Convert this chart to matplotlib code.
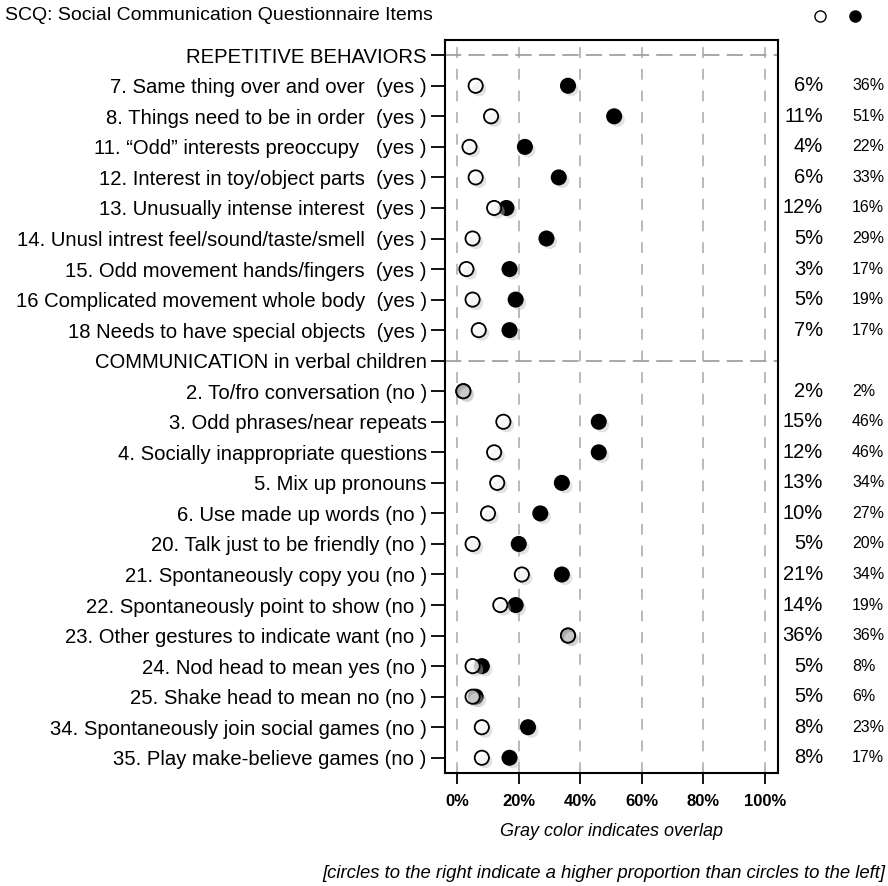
import matplotlib
matplotlib.use("Agg")
import matplotlib.pyplot as plt
import matplotlib.patheffects as pe
from matplotlib.lines import Line2D
from matplotlib.transforms import blended_transform_factory

plt.rcParams['font.family'] = ['Liberation Sans', 'DejaVu Sans']

# Section headers and items (in display order)
rep_header = "REPETITIVE BEHAVIORS"
rep_items = [
    "7. Same thing over and over  (yes )",
    "8. Things need to be in order  (yes )",
    "11. \u201cOdd\u201d interests preoccupy   (yes )",
    "12. Interest in toy/object parts  (yes )",
    "13. Unusually intense interest  (yes )",
    "14. Unusl intrest feel/sound/taste/smell  (yes )",
    "15. Odd movement hands/fingers  (yes )",
    "16 Complicated movement whole body  (yes )",
    "18 Needs to have special objects  (yes )",
]
rep_open = [6, 11, 4, 6, 12, 5, 3, 5, 7]
rep_filled = [36, 51, 22, 33, 16, 29, 17, 19, 17]

com_header = "COMMUNICATION in verbal children"
com_items = [
    "2. To/fro conversation (no )",
    "3. Odd phrases/near repeats",
    "4. Socially inappropriate questions",
    "5. Mix up pronouns",
    "6. Use made up words (no )",
    "20. Talk just to be friendly (no )",
    "21. Spontaneously copy you (no )",
    "22. Spontaneously point to show (no )",
    "23. Other gestures to indicate want (no )",
    "24. Nod head to mean yes (no )",
    "25. Shake head to mean no (no )",
    "34. Spontaneously join social games (no )",
    "35. Play make-believe games (no )",
]
com_open = [2, 15, 12, 13, 10, 5, 21, 14, 36, 5, 5, 8, 8]
com_filled = [2, 46, 46, 34, 27, 20, 34, 19, 36, 8, 6, 23, 17]

x_ticks = [0, 20, 40, 60, 80, 100]
x_ticklabels = ["0%", "20%", "40%", "60%", "80%", "100%"]

# Assemble rows
labels = [rep_header] + rep_items + [com_header] + com_items
open_vals = [None] + rep_open + [None] + com_open
filled_vals = [None] + rep_filled + [None] + com_filled
header_rows = [0, len(rep_items) + 1]

fig = plt.figure(figsize=(8.88, 8.86), dpi=100)
ax = fig.add_axes([0.501, 0.1275, 0.375, 0.8274])

ypos = list(range(len(labels)))
item_y = [y for y, v in zip(ypos, open_vals) if v is not None]
item_open = [v for v in open_vals if v is not None]
item_filled = [v for v in filled_vals if v is not None]

grid_color = "#b4b4b4"
for xv in x_ticks:
    ax.axvline(xv, color=grid_color, lw=1.3, ls=(0, (6, 6)), zorder=1)
for hy in header_rows:
    ax.axhline(hy, color="#a0a0a0", lw=1.3, ls=(0, (9, 4)), zorder=1)

shadow = [pe.SimplePatchShadow(offset=(2.5, -2.5), shadow_rgbFace="0.75", alpha=0.45), pe.Normal()]
ax.scatter(item_filled, item_y, s=105, facecolor="black", edgecolor="black",
           linewidths=1.3, zorder=3, path_effects=shadow)
ax.scatter(item_open, item_y, s=105, facecolor=(1, 1, 1, 0.68), edgecolor="black",
           linewidths=1.3, zorder=4, path_effects=shadow)

ax.set_xlim(-4, 104.2)
ax.set_ylim(len(labels) - 0.5, -0.5)
ax.set_yticks(ypos)
ax.set_yticklabels(labels, fontsize=14.6)
ax.set_xticks(x_ticks)
ax.set_xticklabels(x_ticklabels, fontsize=12, fontweight="bold")
ax.tick_params(axis="y", length=10, width=1.3, pad=3)
ax.tick_params(axis="x", length=8, width=1.3, pad=7)
for sp in ax.spines.values():
    sp.set_linewidth(1.5)
ax.set_xlabel("Gray color indicates overlap", fontsize=13, fontstyle="italic", labelpad=10)

# Percent columns on the right
tr = blended_transform_factory(fig.transFigure, ax.transData)
for y, o, f in zip(item_y, item_open, item_filled):
    ax.text(823 / 888, y, f"{o}%", transform=tr, ha="right", va="center", fontsize=14.5)
    ax.text(852 / 888, y, f"{f}%", transform=tr, ha="left", va="center", fontsize=11.5)

fig.text(5 / 888, 1 - 15 / 886, "SCQ: Social Communication Questionnaire Items",
         ha="left", va="center", fontsize=14)
fig.add_artist(Line2D([820 / 888], [1 - 16 / 886], marker="o", markersize=8,
                      markerfacecolor="white", markeredgecolor="black", markeredgewidth=1,
                      transform=fig.transFigure))
fig.add_artist(Line2D([855 / 888], [1 - 16 / 886], marker="o", markersize=8,
                      markerfacecolor="black", markeredgecolor="black",
                      transform=fig.transFigure))
fig.text(885 / 888, 1 - 873 / 886,
         "[circles to the right indicate a higher proportion than circles to the left]",
         ha="right", va="center", fontsize=13.3, fontstyle="italic")

fig.savefig("out.png", dpi=100)
